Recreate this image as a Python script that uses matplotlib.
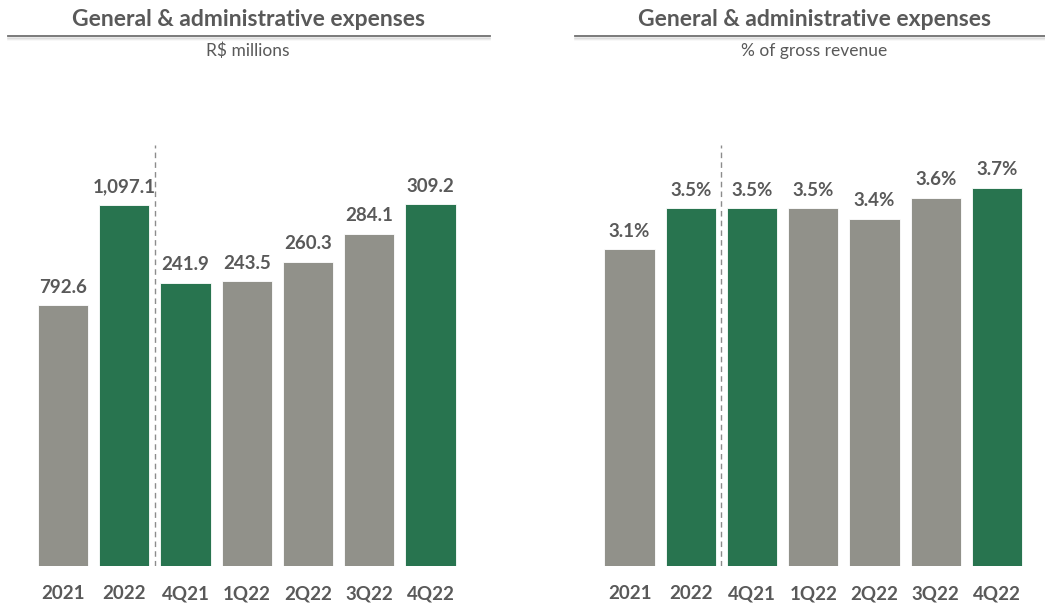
import matplotlib
matplotlib.use("Agg")
import matplotlib.pyplot as plt
from matplotlib.lines import Line2D

plt.rcParams["font.family"] = ["Lato", "DejaVu Sans"]

# Data
categories = ["2021", "2022", "4Q21", "1Q22", "2Q22", "3Q22", "4Q22"]
annual_labels = ["2021", "2022"]
quarter_labels = ["4Q21", "1Q22", "2Q22", "3Q22", "4Q22"]

ga_annual = [792.6, 1097.1]                      # R$ millions
ga_quarter = [241.9, 243.5, 260.3, 284.1, 309.2]  # R$ millions
ga_pct = [3.1, 3.5, 3.5, 3.5, 3.4, 3.6, 3.7]      # % of gross revenue

highlight = ["2022", "4Q21", "4Q22"]

GREEN = "#28744f"
GRAY = "#91918a"
TEXT = "#595959"

W, H = 1045, 607
fig = plt.figure(figsize=(W / 100, H / 100), dpi=100)


def px_axes(left, top, right, bottom):
    return fig.add_axes([left / W, 1 - bottom / H, (right - left) / W, (bottom - top) / H])


def color_for(cat):
    return GREEN if cat in highlight else GRAY


def style(ax):
    for s in ax.spines.values():
        s.set_visible(False)
    ax.set_yticks([])
    ax.tick_params(axis="x", length=0, pad=14)


def header(cx, x0, x1, sub):
    fig.text(cx / W, 1 - 20 / H, "General & administrative expenses", ha="center", va="center",
             fontsize=16.5, fontweight="bold", color=TEXT)
    # soft shadow under the rule
    for k, a in enumerate([0.10, 0.06, 0.03]):
        fig.add_artist(Line2D([x0 / W, x1 / W], [1 - (38 + k) / H] * 2, color="black",
                              alpha=a, lw=1.2, transform=fig.transFigure))
    fig.add_artist(Line2D([x0 / W, x1 / W], [1 - 36 / H] * 2, color="#707070", lw=1.3,
                          transform=fig.transFigure))
    fig.text(cx / W, 1 - 51 / H, sub, ha="center", va="center", fontsize=12.5, color=TEXT)


def label_bars(ax, bars, texts):
    for b, t in zip(bars, texts):
        ax.annotate(t, (b.get_x() + b.get_width() / 2, b.get_height()),
                    xytext=(0, 7), textcoords="offset points", ha="center", va="bottom",
                    fontsize=13.5, fontweight="bold", color=TEXT)


bar_w = 0.82
pos = list(range(len(categories)))

# ---- Left panel: R$ millions (annual and quarterly on their own scales) ----
axq = px_axes(32.4, 145, 461.1, 566)
axa = axq.twinx()
style(axq)
style(axa)
axq.set_xlim(-0.5, 6.5)
axq.set_ylim(0, 360)
axa.set_ylim(0, 1280)

qb = axq.bar(pos[2:], ga_quarter, width=bar_w, color=[color_for(c) for c in quarter_labels],
             edgecolor="white", linewidth=0.6)
ab = axa.bar(pos[:2], ga_annual, width=bar_w, color=[color_for(c) for c in annual_labels],
             edgecolor="white", linewidth=0.6)
label_bars(axq, qb, [f"{v:,.1f}" for v in ga_quarter])
label_bars(axa, ab, [f"{v:,.1f}" for v in ga_annual])
axq.axvline(1.5, color="#8c8c8c", lw=1, ls=(0, (4, 3)))
axq.set_xticks(pos)
axq.set_xticklabels(categories, fontsize=13.5, fontweight="bold", color=TEXT)

header(248, 8, 490, "R$ millions")

# ---- Right panel: % of gross revenue ----
axp = px_axes(598.9, 145, 1027.6, 566)
style(axp)
axp.set_xlim(-0.5, 6.5)
axp.set_ylim(0, 4.12)
pb = axp.bar(pos, ga_pct, width=bar_w, color=[color_for(c) for c in categories],
             edgecolor="white", linewidth=0.6)
label_bars(axp, pb, [f"{v:.1f}%" for v in ga_pct])
axp.axvline(1.5, color="#8c8c8c", lw=1, ls=(0, (4, 3)))
axp.set_xticks(pos)
axp.set_xticklabels(categories, fontsize=13.5, fontweight="bold", color=TEXT)

header(814, 575, 1045, "% of gross revenue")

fig.savefig("out.png", dpi=100, facecolor="white")
